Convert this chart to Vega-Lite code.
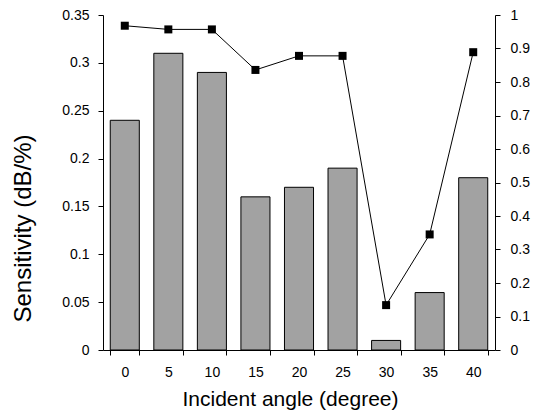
{
  "$schema": "https://vega.github.io/schema/vega-lite/v6.json",
  "autosize": "none",
  "width": 392,
  "height": 335,
  "padding": {"left": 103, "top": 15, "right": 40, "bottom": 64},
  "background": "white",
  "config": {
    "view": {"stroke": null},
    "font": "Liberation Sans",
    "axis": {
      "grid": false,
      "domainColor": "black",
      "tickColor": "black",
      "labelColor": "black",
      "titleColor": "black",
      "labelFont": "Liberation Sans",
      "titleFont": "Liberation Sans",
      "labelFontSize": 14,
      "titleFontSize": 21,
      "titleFontWeight": "normal",
      "tickSize": 5
    }
  },
  "data": {
    "values": [
      {"angle": 0, "sens": 0.24, "eff": 0.968},
      {"angle": 5, "sens": 0.31, "eff": 0.957},
      {"angle": 10, "sens": 0.29, "eff": 0.957},
      {"angle": 15, "sens": 0.16, "eff": 0.836},
      {"angle": 20, "sens": 0.17, "eff": 0.878},
      {"angle": 25, "sens": 0.19, "eff": 0.878},
      {"angle": 30, "sens": 0.01, "eff": 0.134},
      {"angle": 35, "sens": 0.06, "eff": 0.345},
      {"angle": 40, "sens": 0.18, "eff": 0.889}
    ]
  },
  "encoding": {
    "x": {
      "field": "angle",
      "type": "ordinal",
      "scale": {"paddingInner": 0.333, "paddingOuter": 0.1667},
      "axis": {
        "title": "Incident angle (degree)",
        "labelAngle": 0,
        "tickBand": "extent",
        "labelPadding": 10,
        "titleBaseline": "alphabetic",
        "titleX": 187,
        "titleY": 55
      }
    }
  },
  "layer": [
    {
      "mark": {"type": "bar", "fill": "#a2a2a2", "stroke": "black", "strokeWidth": 1},
      "encoding": {
        "y": {
          "field": "sens",
          "type": "quantitative",
          "scale": {"domain": [0, 0.35], "nice": false, "zero": true},
          "axis": {
            "title": "Sensitivity (dB/%)",
            "values": [0, 0.05, 0.1, 0.15, 0.2, 0.25, 0.3, 0.35],
            "format": ".2~f",
            "labelPadding": 9,
            "titleFontSize": 24,
            "titleAngle": -90,
            "titleBaseline": "alphabetic",
            "titleAlign": "center",
            "titleX": -73,
            "titleY": 213
          }
        }
      }
    },
    {
      "layer": [
        {"mark": {"type": "line", "color": "black", "strokeWidth": 1}},
        {"mark": {"type": "point", "shape": "square", "filled": true, "color": "black", "size": 64, "opacity": 1}}
      ],
      "encoding": {
        "y": {
          "field": "eff",
          "type": "quantitative",
          "scale": {"domain": [0, 1], "nice": false},
          "axis": {
            "orient": "right",
            "title": null,
            "values": [0, 0.1, 0.2, 0.3, 0.4, 0.5, 0.6, 0.7, 0.8, 0.9, 1],
            "format": ".1~f",
            "labelPadding": 10
          }
        }
      }
    }
  ],
  "resolve": {"scale": {"y": "independent"}}
}
